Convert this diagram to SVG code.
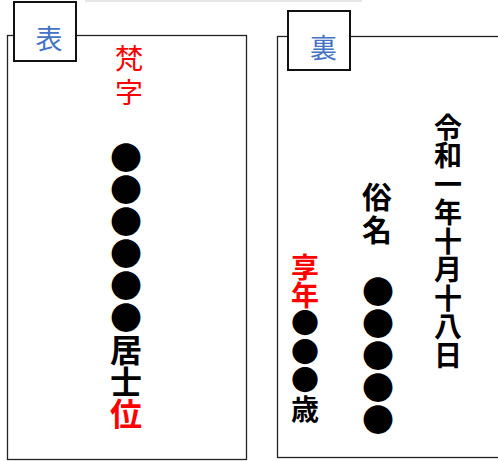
<svg xmlns="http://www.w3.org/2000/svg" width="498" height="461" viewBox="0 0 498 461">
<style>
.panel{fill:#fff;stroke:#222;stroke-width:1.3}
.tab{fill:#fff;stroke:#111;stroke-width:2}
.tabt{font-family:"Noto Sans CJK JP",sans-serif;font-size:27px;fill:#4472C4;text-anchor:middle;dominant-baseline:central}
.v{font-family:"Noto Sans CJK JP",sans-serif;font-weight:bold;fill:#000;writing-mode:vertical-rl}
.thin{font-weight:normal;fill:#f00}
.red{fill:#f00}
</style>
<rect x="85" y="0" width="277" height="2" fill="#e6e6e6"/>
<g id="front">
<rect class="panel" x="7.5" y="35.5" width="239" height="424"/>
<rect class="tab" x="14" y="2" width="62" height="59"/>
<text class="tabt" x="49" y="37">表</text>
<text class="v thin" x="129" y="44" font-size="28" letter-spacing="6">梵字</text>
<text class="v" x="126" y="142" font-size="32">●●●●●●居士<tspan class="red">位</tspan></text>
</g>
<g id="back">
<rect class="panel" x="277.5" y="36.5" width="240" height="421"/>
<rect class="tab" x="288" y="11" width="62" height="59"/>
<text class="tabt" x="323.5" y="46">裏</text>
<text class="v" x="448" y="113" font-size="28" letter-spacing="0.5">令和一年十月十八日</text>
<text class="v" x="377" y="182" font-size="30" letter-spacing="3">俗名</text>
<text class="v" x="378" y="276" font-size="32">●●●●●</text>
<text class="v" x="305" y="253" font-size="28" letter-spacing="0.4"><tspan class="red">享年</tspan>●●●歳</text>
</g>
</svg>
